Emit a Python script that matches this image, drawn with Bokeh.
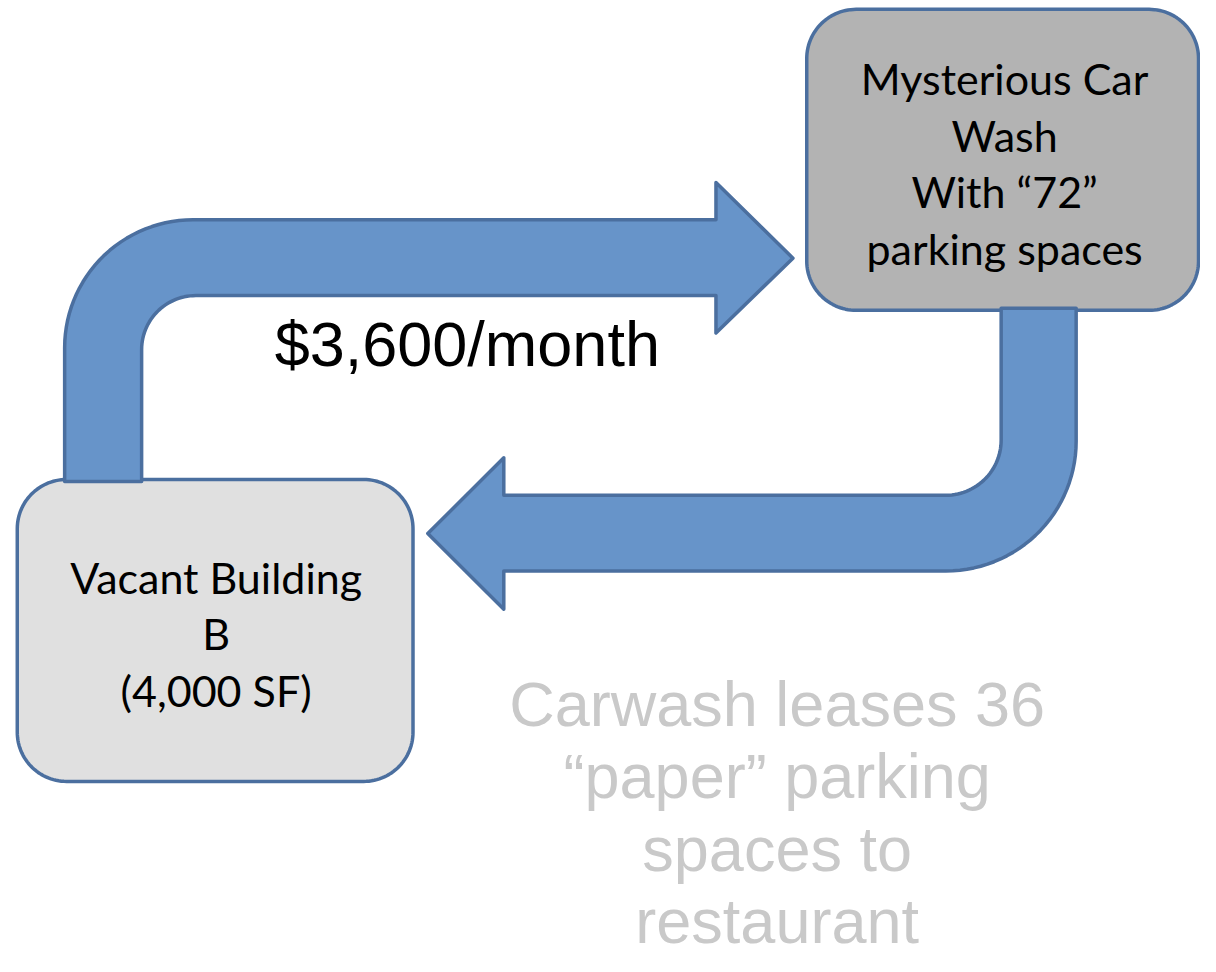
import numpy as np
from bokeh.plotting import figure
from bokeh.models import Range1d
from bokeh.core.properties import value
from bokeh.embed import file_html
from bokeh.resources import INLINE

# ---- texts ----
carwash_lines = ["Mysterious Car", "Wash", "With \u201c72\u201d", "parking spaces"]
building_lines = ["Vacant Building", "B", "(4,000 SF)"]
rent_label = ["$3,600/month"]
note_lines = ["Carwash leases 36", "\u201cpaper\u201d parking", "spaces to", "restaurant"]

# ---- colours ----
ARROW_FILL = "#6794c9"
EDGE = "#4b6f9f"
CARWASH_FILL = "#b3b3b3"
BUILDING_FILL = "#e0e0e0"
NOTE_COLOR = "#c9c9c9"

# ---- layout (picture coordinates, y grows downward) ----
carwash_box = dict(x0=817, y0=9, x1=1214, y1=315, r=50)
building_box = dict(x0=17, y0=487, x1=418, y1=794, r=50)

W, H = 1200, 956
p = figure(width=W, height=H, output_backend="svg", toolbar_location=None,
           x_range=Range1d(0, 1216), y_range=Range1d(972, 0),
           x_axis_location=None, y_axis_location=None, min_border=0)
p.grid.visible = False
p.outline_line_color = None
p.background_fill_color = "white"

BASE_K = 0.365  # baseline correction (fraction of font size)


def arc(cx, cy, r, a0, a1, n=30):
    t = np.radians(np.linspace(a0, a1, n))
    return list(cx + r * np.cos(t)), list(cy + r * np.sin(t))


def rounded_rect(x0, y0, x1, y1, r):
    xs, ys = [], []
    for cx, cy, a0, a1 in [(x0 + r, y0 + r, 180, 270), (x1 - r, y0 + r, 270, 360),
                           (x1 - r, y1 - r, 0, 90), (x0 + r, y1 - r, 90, 180)]:
        ax, ay = arc(cx, cy, r, a0, a1)
        xs += ax
        ys += ay
    return xs, ys


# boxes
for box, fill in [(carwash_box, CARWASH_FILL), (building_box, BUILDING_FILL)]:
    bx, by = rounded_rect(box["x0"], box["y0"], box["x1"], box["y1"], box["r"])
    p.patch(bx, by, fill_color=fill, line_color=EDGE, line_width=3.5)

# top bent arrow (from building up and right to car wash)
R_OUT, R_IN = 130, 55
xs, ys = [65], [489]
ax, ay = arc(65 + R_OUT, 223 + R_OUT, R_OUT, 180, 270)
xs += ax; ys += ay
xs += [725, 725, 803, 725, 725]
ys += [223, 185, 262, 338, 300]
ax, ay = arc(143 + R_IN, 300 + R_IN, R_IN, 270, 180)
xs += ax; ys += ay
xs += [143]; ys += [489]
p.patch(xs, ys, fill_color=ARROW_FILL, line_color=EDGE, line_width=3.5, line_join="round")

# bottom bent arrow (from car wash down and left to building)
R_OUT2, R_IN2 = 132, 56
xs, ys = [1014, 1090], [313, 313]
ax, ay = arc(1090 - R_OUT2, 580 - R_OUT2, R_OUT2, 0, 90)
xs += ax; ys += ay
xs += [510, 510, 433, 510, 510]
ys += [580, 619, 542, 465, 503]
ax, ay = arc(1014 - R_IN2, 503 - R_IN2, R_IN2, 90, 0)
xs += ax; ys += ay
xs += [1014]; ys += [313]
p.patch(xs, ys, fill_color=ARROW_FILL, line_color=EDGE, line_width=3.5, line_join="round")


def lines(x, y0, step, texts, font, size, color):
    ys_ = [y0 + step * i - BASE_K * size for i in range(len(texts))]
    p.text(x=[x] * len(texts), y=ys_, text=texts, text_align="center",
           text_baseline="alphabetic", text_font=value(font),
           text_font_size=f"{size}px", text_color=color)


cw_cx = (carwash_box["x0"] + carwash_box["x1"]) / 2 + 2
lines(cw_cx, 95, 57.5, carwash_lines, "Lato", 43, "black")

bb_cx = (building_box["x0"] + building_box["x1"]) / 2 + 1
lines(bb_cx, 602, 57.5, building_lines, "Lato", 43, "black")

lines(473, 372, 0, rent_label, "Liberation Sans", 63, "black")

lines(787, 738, 73.7, note_lines, "Liberation Sans", 63, NOTE_COLOR)

open("out.html", "w").write(file_html(p, INLINE))
